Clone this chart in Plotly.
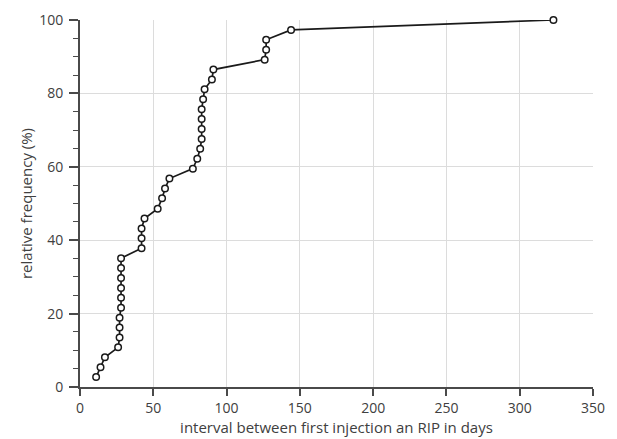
import plotly.graph_objects as go

days = [11, 14, 17, 26, 27, 27, 27, 28, 28, 28, 28, 28, 28,
        42, 42, 42, 44, 53, 56, 58, 61, 77, 80, 82, 83, 83, 83, 83,
        84, 85, 90, 91, 126, 127, 127, 144, 323]
rel_freq = [2.7, 5.4, 8.1, 10.8, 13.5, 16.2, 18.9, 21.6, 24.3, 27.0, 29.7, 32.4, 35.1,
            37.8, 40.5, 43.2, 45.9, 48.6, 51.4, 54.1, 56.8, 59.5, 62.2, 64.9, 67.6, 70.3,
            73.0, 75.7, 78.4, 81.1, 83.8, 86.5, 89.2, 91.9, 94.6, 97.3, 100.0]

x_ticks = [0, 50, 100, 150, 200, 250, 300, 350]
y_ticks = [0, 20, 40, 60, 80, 100]

fig = go.Figure()
fig.add_trace(go.Scatter(
    x=days, y=rel_freq, mode="lines+markers",
    line=dict(color="#1a1a1a", width=1.7),
    marker=dict(symbol="circle", size=6.5, color="white",
                line=dict(color="#1a1a1a", width=1.5)),
    showlegend=False, cliponaxis=False,
))

font_family = "Open Sans, Liberation Sans, sans-serif"
fig.update_layout(
    width=617, height=439,
    margin=dict(l=80, r=24, t=20, b=52),
    plot_bgcolor="white", paper_bgcolor="white",
    font=dict(family=font_family, size=14, color="#404040"),
    xaxis=dict(
        range=[0, 350], tickvals=x_ticks, ticktext=[str(v) for v in x_ticks],
        automargin=False,
        showline=True, linecolor="#4a4a4a", linewidth=1.8,
        ticks="outside", ticklen=7, tickwidth=1.6, tickcolor="#4a4a4a",
        showgrid=True, gridcolor="#dcdcdc", gridwidth=1,
        zeroline=False,
        title=dict(text="interval between first injection an RIP in days",
                   font=dict(size=15, color="#404040"), standoff=2),
    ),
    yaxis=dict(
        range=[0, 100], tickvals=y_ticks, ticktext=[str(v) for v in y_ticks],
        automargin=False, ticklabelstandoff=3,
        showline=True, linecolor="#4a4a4a", linewidth=1.8,
        ticks="outside", ticklen=9, tickwidth=1.6, tickcolor="#4a4a4a",
        minor=dict(dtick=5, ticks="outside", ticklen=5, tickwidth=1.3,
                   tickcolor="#4a4a4a", showgrid=False),
        showgrid=True, gridcolor="#dcdcdc", gridwidth=1,
        zeroline=False,
        title=dict(text="relative frequency (%)",
                   font=dict(size=15, color="#404040"), standoff=3),
    ),
)

fig.write_html("out.html", config={"displayModeBar": False},
               post_script="document.body.style.margin='0';document.body.style.overflow='hidden';")
